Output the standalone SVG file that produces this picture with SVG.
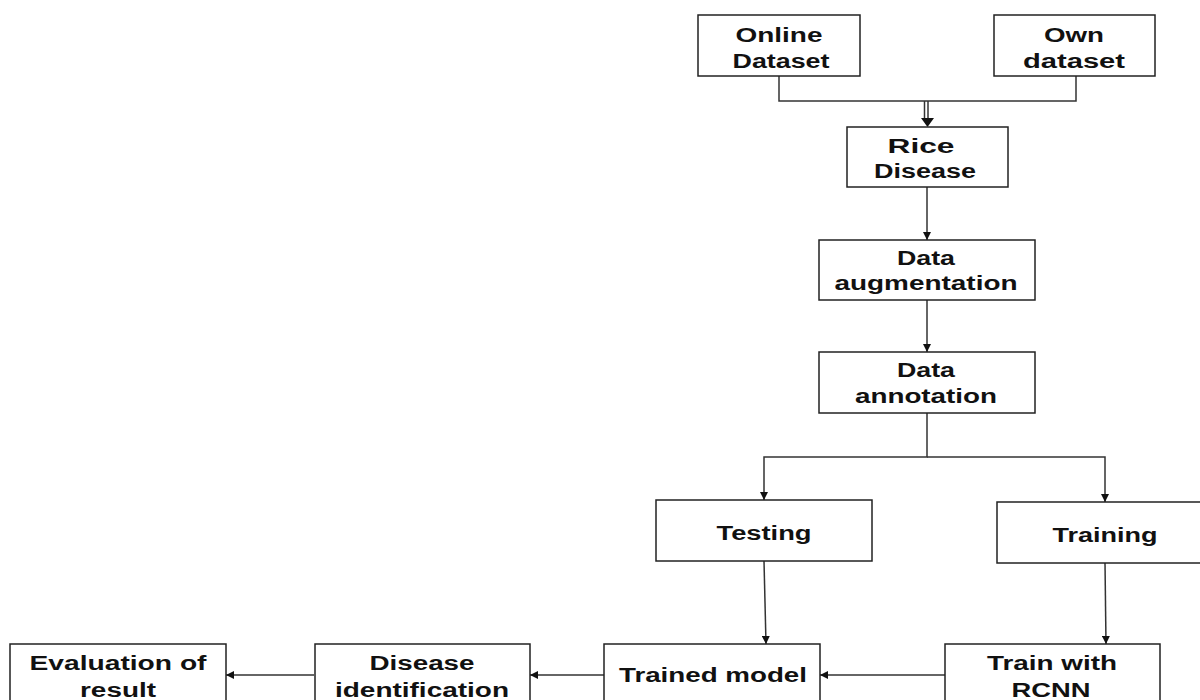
<svg xmlns="http://www.w3.org/2000/svg" width="1200" height="700" viewBox="0 0 1200 700">
<defs>
<style>
.box{fill:#fff;stroke:#222;stroke-width:1.5}
.ln{fill:none;stroke:#333;stroke-width:1.5}
text{font-family:"Liberation Sans",Arial,sans-serif;font-weight:bold;font-size:20px;fill:#111;text-anchor:middle}
</style>
<marker id="ah" viewBox="0 0 10 10" refX="10" refY="5" markerWidth="8" markerHeight="8" markerUnits="userSpaceOnUse" orient="auto">
<path d="M0,0 L10,5 L0,10 z" fill="#111"/>
</marker>
</defs>
<rect width="1200" height="700" fill="#fff"/>
<g id="connectors">
<polyline class="ln" points="779,76 779,101 1076,101 1076,76"/>
<line class="ln" x1="924.5" y1="101" x2="924.5" y2="119" stroke-width="1.2"/>
<line class="ln" x1="928" y1="101" x2="928" y2="119" stroke-width="1.2"/>
<path d="M921,118 L934,118 L927.5,127 z" fill="#111"/>
<line class="ln" x1="927" y1="187" x2="927" y2="240" marker-end="url(#ah)"/>
<line class="ln" x1="927" y1="300" x2="927" y2="352" marker-end="url(#ah)"/>
<polyline class="ln" points="927,413 927,457 764,457 764,500" marker-end="url(#ah)"/>
<polyline class="ln" points="927,457 1105,457 1105,502" marker-end="url(#ah)"/>
<line class="ln" x1="764" y1="561" x2="766" y2="644" marker-end="url(#ah)"/>
<line class="ln" x1="1105" y1="563" x2="1106" y2="644" marker-end="url(#ah)"/>
<line class="ln" x1="945" y1="675" x2="820" y2="675" marker-end="url(#ah)"/>
<line class="ln" x1="604" y1="675" x2="530" y2="675" marker-end="url(#ah)"/>
<line class="ln" x1="314" y1="675" x2="226" y2="675" marker-end="url(#ah)"/>
</g>
<g id="online">
<rect class="box" x="698" y="15" width="162" height="61"/>
<text x="779" y="42" textLength="87" lengthAdjust="spacingAndGlyphs">Online</text>
<text x="781" y="68" textLength="97" lengthAdjust="spacingAndGlyphs">Dataset</text>
</g>
<g id="own">
<rect class="box" x="994" y="15" width="161" height="61"/>
<text x="1074" y="42" textLength="60" lengthAdjust="spacingAndGlyphs">Own</text>
<text x="1074" y="68" textLength="102" lengthAdjust="spacingAndGlyphs">dataset</text>
</g>
<g id="rice">
<rect class="box" x="847" y="127" width="161" height="60"/>
<text x="921" y="153" textLength="67" lengthAdjust="spacingAndGlyphs">Rice</text>
<text x="925" y="178" textLength="102" lengthAdjust="spacingAndGlyphs">Disease</text>
</g>
<g id="augment">
<rect class="box" x="819" y="240" width="216" height="60"/>
<text x="926" y="265" textLength="58" lengthAdjust="spacingAndGlyphs">Data</text>
<text x="926" y="290" textLength="183" lengthAdjust="spacingAndGlyphs">augmentation</text>
</g>
<g id="annotation">
<rect class="box" x="819" y="352" width="216" height="61"/>
<text x="926" y="377" textLength="58" lengthAdjust="spacingAndGlyphs">Data</text>
<text x="926" y="403" textLength="142" lengthAdjust="spacingAndGlyphs">annotation</text>
</g>
<g id="testing">
<rect class="box" x="656" y="500" width="216" height="61"/>
<text x="764" y="540" textLength="95" lengthAdjust="spacingAndGlyphs">Testing</text>
</g>
<g id="training">
<rect class="box" x="997" y="502" width="220" height="61"/>
<text x="1105" y="542" textLength="105" lengthAdjust="spacingAndGlyphs">Training</text>
</g>
<g id="rcnn">
<rect class="box" x="945" y="644" width="215" height="64"/>
<text x="1052" y="670" textLength="130" lengthAdjust="spacingAndGlyphs">Train with</text>
<text x="1051" y="697" textLength="79" lengthAdjust="spacingAndGlyphs">RCNN</text>
</g>
<g id="trained">
<rect class="box" x="604" y="644" width="216" height="64"/>
<text x="713" y="682" textLength="188" lengthAdjust="spacingAndGlyphs">Trained model</text>
</g>
<g id="identification">
<rect class="box" x="315" y="644" width="215" height="64"/>
<text x="422" y="670" textLength="105" lengthAdjust="spacingAndGlyphs">Disease</text>
<text x="422" y="697" textLength="174" lengthAdjust="spacingAndGlyphs">identification</text>
</g>
<g id="evaluation">
<rect class="box" x="10" y="644" width="216" height="64"/>
<text x="118" y="670" textLength="177" lengthAdjust="spacingAndGlyphs">Evaluation of</text>
<text x="118" y="697" textLength="76" lengthAdjust="spacingAndGlyphs">result</text>
</g>
</svg>
